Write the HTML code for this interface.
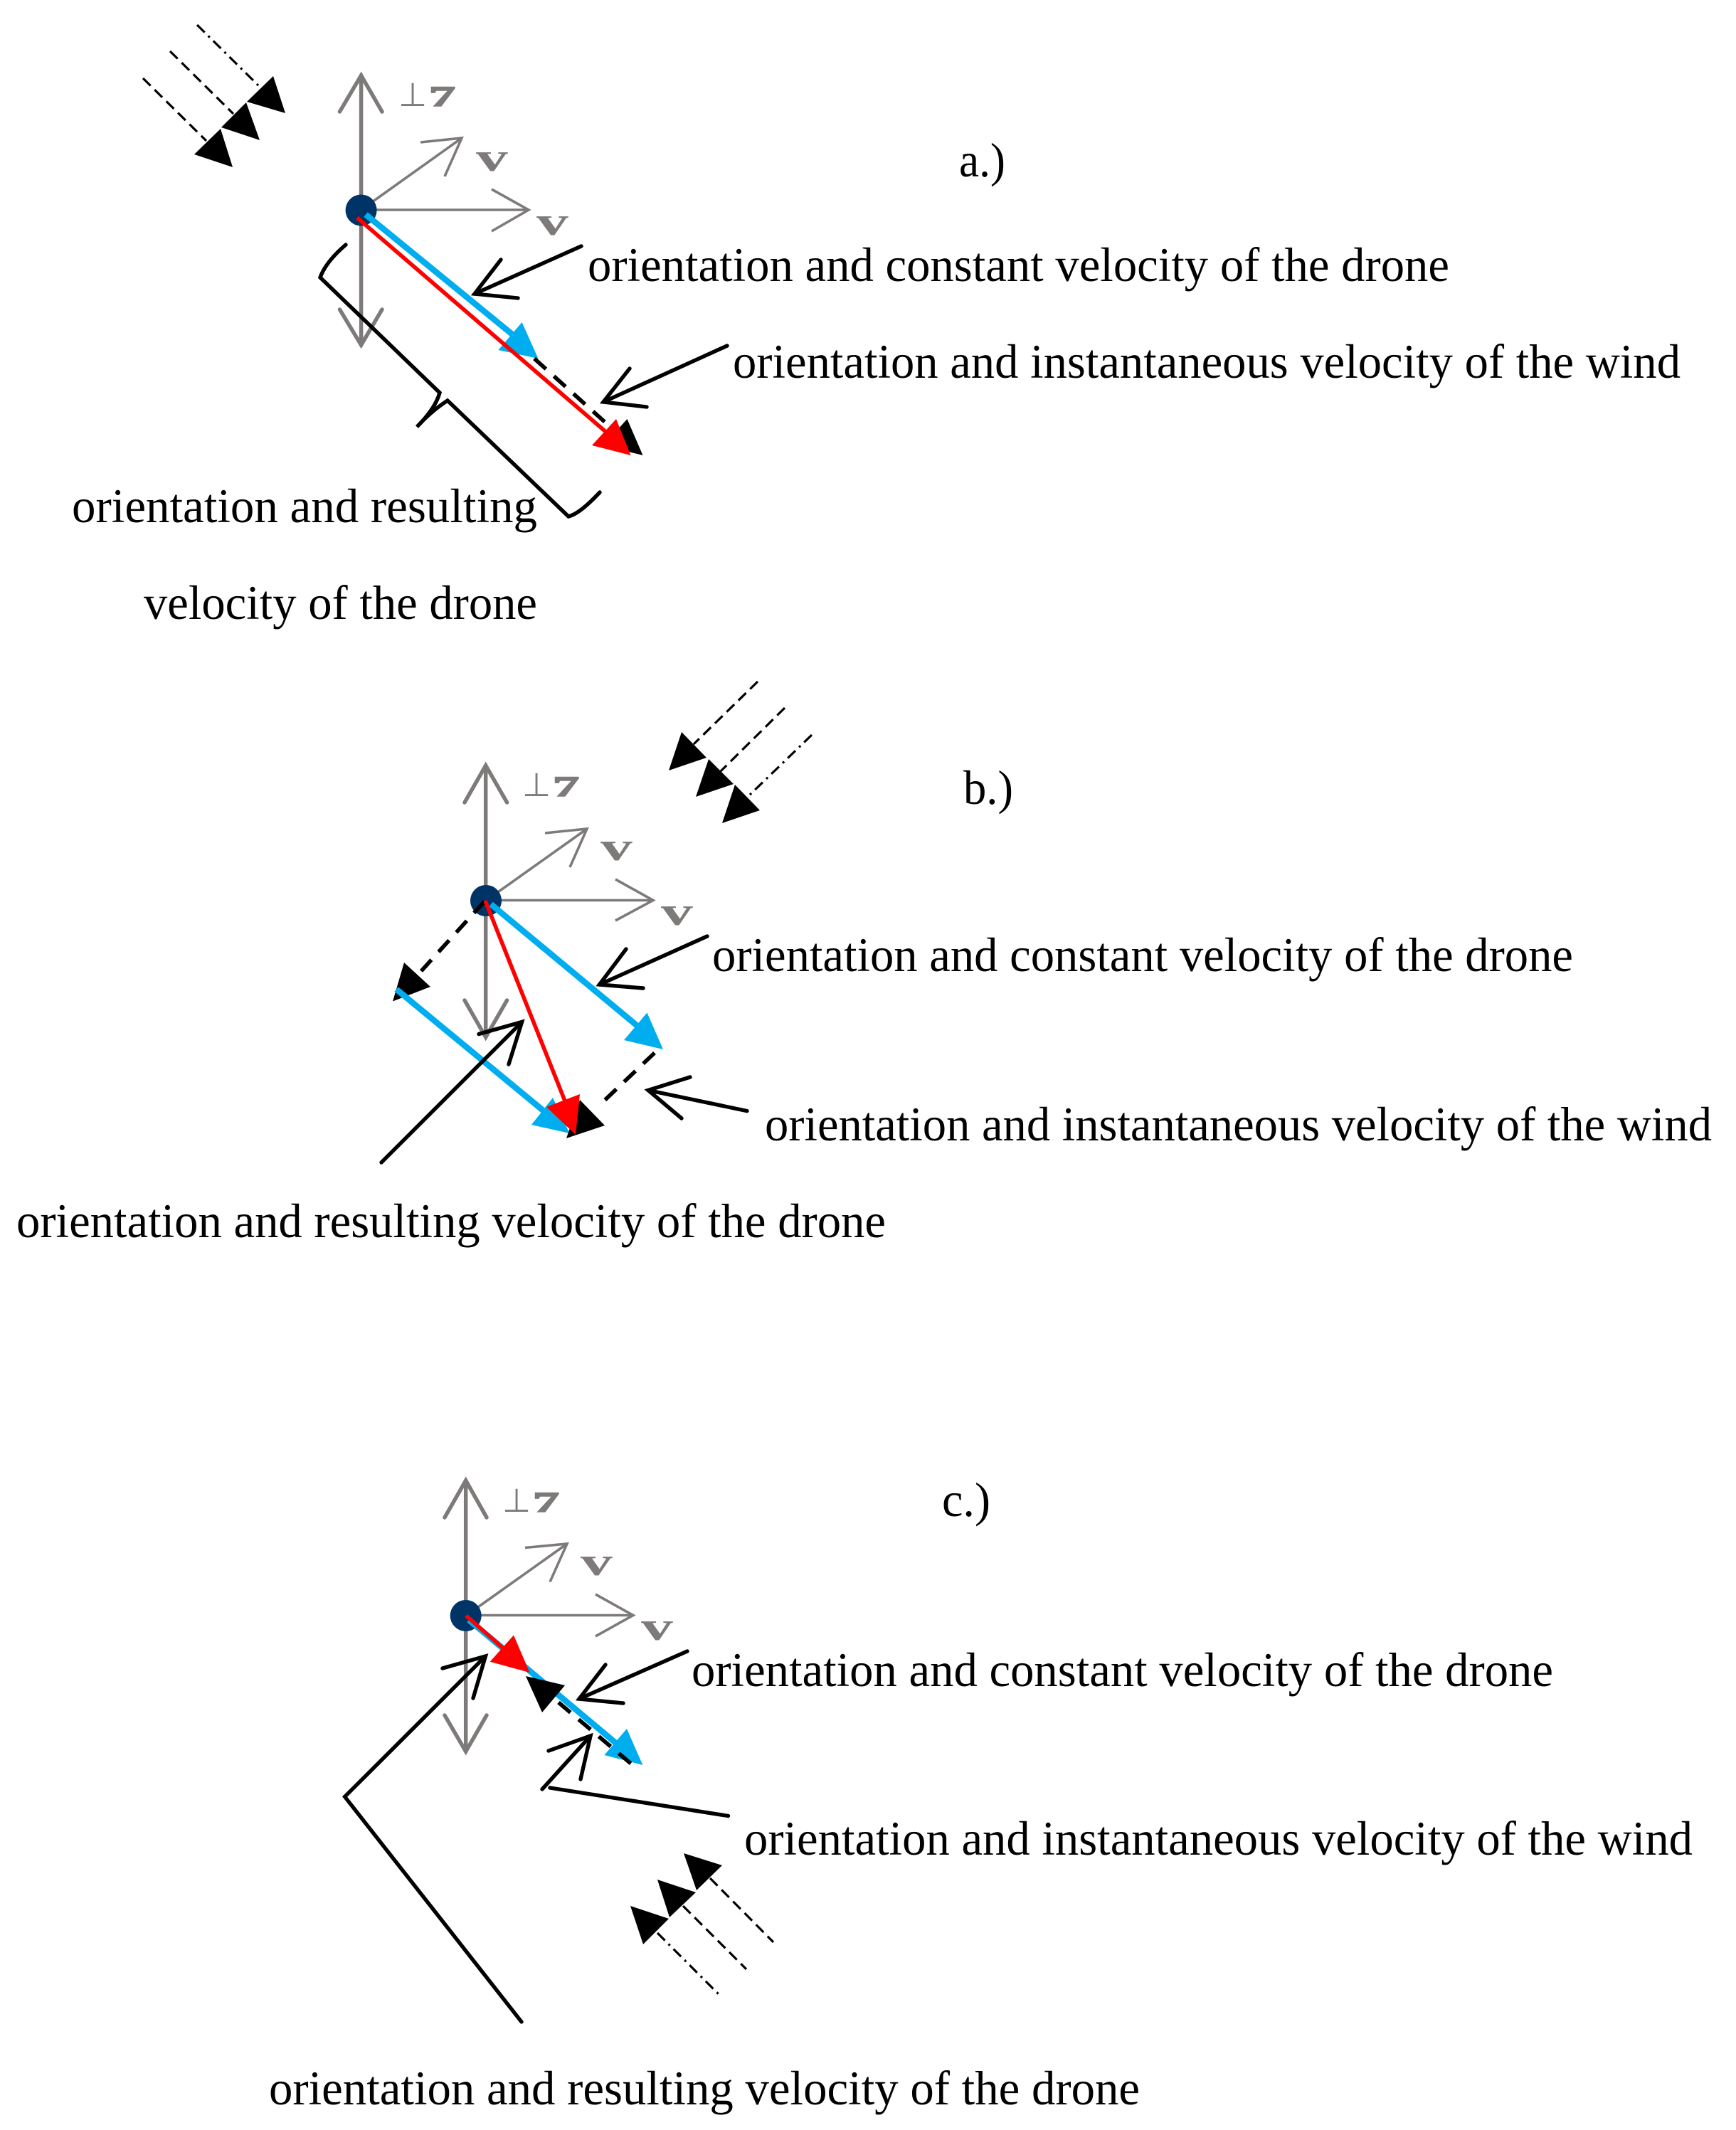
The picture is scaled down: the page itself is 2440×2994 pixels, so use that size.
<!DOCTYPE html>
<html><head><meta charset="utf-8"><style>
html,body{margin:0;padding:0;background:#fff}
svg{display:block}
text{font-family:"Liberation Serif",serif}
.t{font-size:68px;fill:#000}
.g{fill:#7f7a7a;font-weight:bold}
.gl{stroke:#7f7a7a;fill:none;stroke-width:5.5;stroke-linecap:round;stroke-linejoin:miter}
.gt{stroke:#7f7a7a;fill:none;stroke-width:3.6;stroke-linecap:butt}
.k{stroke:#000;fill:none;stroke-width:5.4;stroke-linecap:round;stroke-linejoin:miter}
.w{stroke:#000;fill:none;stroke-width:3.2;stroke-dasharray:15 8}
.wd{stroke:#000;fill:none;stroke-width:3.2;stroke-dasharray:15 7 3 7}
.d{stroke:#000;fill:none;stroke-width:5.6;stroke-dasharray:22 15}
.b{stroke:#00aeef;stroke-width:8.5;fill:none}
.r{stroke:#f00;stroke-width:5.6;fill:none}
.h{stroke:#7f7a7a;stroke-width:1.6}
</style></head><body>
<svg width="2440" height="2994" viewBox="0 0 2440 2994" xmlns="http://www.w3.org/2000/svg">
<rect width="2440" height="2994" fill="#fff"/>

<!-- PANEL A -->
<line class="w" x1="201" y1="110" x2="290" y2="198"/>
<line class="w" x1="239" y1="72" x2="328" y2="160"/>
<line class="wd" x1="277" y1="35" x2="365" y2="122"/>
<polygon points="384,107 347,143 401,159"/>
<polygon points="346,144 311,179 365,197"/>
<polygon points="310,181 273,217 327,235"/>
<line class="gl" x1="507.6" y1="106" x2="507.6" y2="485"/>
<polyline class="gl" points="477.5,157 507.6,106 537,157"/>
<polyline class="gl" points="477.5,435 507.6,485 537,435"/>
<line class="gt" x1="507.6" y1="295" x2="649" y2="194"/>
<polyline class="gt" points="591,200 649,194 625,248"/>
<line class="gt" x1="507.6" y1="295" x2="743" y2="295"/>
<polyline class="gt" points="691,266 743,295 691,325"/>
<circle cx="507.6" cy="295.5" r="22" fill="#003366"/>
<text class="g" font-size="46" transform="translate(560,149)" style="font-weight:normal">⊥</text>
<text class="g h" font-size="40" transform="translate(603,149) scale(1.85,1)">7</text>
<text class="g" font-size="56" transform="translate(669,240) scale(1.6,1)">v</text>
<text class="g" font-size="56" transform="translate(754,330) scale(1.6,1)">v</text>
<line class="b" x1="514" y1="301.5" x2="725" y2="474"/>
<polygon points="756.5,504 733.6,453 700.4,492" fill="#00aeef"/>
<line class="d" x1="751" y1="504" x2="851" y2="594"/>
<polygon points="903.5,640 881.5,589 848,626"/>
<line class="r" x1="502" y1="306" x2="855" y2="610"/>
<polygon points="886.6,640 866,589 832,626" fill="#f00"/>
<polyline class="k" points="728,419 667,413 704,365"/>
<line class="k" x1="817" y1="346" x2="667" y2="413"/>
<polyline class="k" points="909,572 848,565 885,518"/>
<line class="k" x1="1022" y1="486" x2="848" y2="565"/>
<path class="k" d="M486,344 Q458,368 450,390 L618,552 Q612,574 586,600 Q606,578 629,563 L799,726 Q815,722 843,692"/>
<text class="t" x="826" y="395" textLength="1211" lengthAdjust="spacingAndGlyphs">orientation and constant velocity of the drone</text>
<text class="t" x="1030" y="531" textLength="1332" lengthAdjust="spacingAndGlyphs">orientation and instantaneous velocity of the wind</text>
<text class="t" x="101" y="734" textLength="654" lengthAdjust="spacingAndGlyphs">orientation and resulting</text>
<text class="t" x="202" y="870" textLength="553" lengthAdjust="spacingAndGlyphs">velocity of the drone</text>
<text class="t" x="1348" y="248" textLength="65" lengthAdjust="spacingAndGlyphs">a.)</text>

<!-- PANEL B -->
<line class="w" x1="1065" y1="958" x2="975" y2="1046"/>
<line class="w" x1="1103" y1="995" x2="1013" y2="1084"/>
<line class="wd" x1="1141" y1="1033" x2="1052" y2="1119"/>
<polygon points="958,1029 993,1065 940,1083"/>
<polygon points="996,1067 1031,1102 978,1120"/>
<polygon points="1033,1103 1068,1139 1015,1157"/>
<line class="gl" x1="682.7" y1="1076" x2="682.7" y2="1458"/>
<polyline class="gl" points="653,1128 682.7,1076 712.6,1128"/>
<polyline class="gl" points="653,1406 682.7,1458 712.6,1406"/>
<line class="gt" x1="683" y1="1266" x2="825" y2="1165"/>
<polyline class="gt" points="766,1171 825,1165 801,1219"/>
<line class="gt" x1="683" y1="1265.5" x2="918" y2="1265.5"/>
<polyline class="gt" points="865,1236 918,1265.5 865,1294"/>
<circle cx="683" cy="1266" r="22" fill="#003366"/>
<text class="g" font-size="46" transform="translate(734,1119)" style="font-weight:normal">⊥</text>
<text class="g h" font-size="40" transform="translate(777,1119) scale(1.85,1)">7</text>
<text class="g" font-size="56" transform="translate(844,1209) scale(1.6,1)">v</text>
<text class="g" font-size="56" transform="translate(929,1300) scale(1.6,1)">v</text>
<line class="d" x1="681" y1="1267" x2="592" y2="1365"/>
<polygon points="552,1407.5 568,1353 605,1387"/>
<line class="b" x1="690" y1="1271" x2="903" y2="1448"/>
<polygon points="932,1475 909.5,1423.5 877,1462" fill="#00aeef"/>
<line class="b" x1="557" y1="1390.5" x2="772" y2="1568"/>
<polygon points="800.5,1593 777,1543 747,1581" fill="#00aeef"/>
<line class="d" x1="920" y1="1480" x2="842" y2="1554"/>
<polygon points="796,1600 850,1582 815,1546"/>
<line class="r" x1="682" y1="1266" x2="795" y2="1550"/>
<polygon points="809,1595 815,1538 768,1556" fill="#f00"/>
<polyline class="k" points="904,1389 842.5,1384 880,1334"/>
<line class="k" x1="994" y1="1316" x2="842.5" y2="1384"/>
<polyline class="k" points="970,1514 911,1532.5 958,1572"/>
<line class="k" x1="1050" y1="1561.6" x2="911" y2="1532.5"/>
<line class="k" x1="536" y1="1634" x2="733.6" y2="1436.5"/>
<polyline class="k" points="673,1453.5 733.6,1436.5 715,1496"/>
<text class="t" x="1001" y="1365" textLength="1210" lengthAdjust="spacingAndGlyphs">orientation and constant velocity of the drone</text>
<text class="t" x="1075" y="1603" textLength="1331" lengthAdjust="spacingAndGlyphs">orientation and instantaneous velocity of the wind</text>
<text class="t" x="23" y="1739" textLength="1222" lengthAdjust="spacingAndGlyphs">orientation and resulting velocity of the drone</text>
<text class="t" x="1354" y="1130" textLength="70" lengthAdjust="spacingAndGlyphs">b.)</text>

<!-- PANEL C -->
<line class="gl" x1="654.7" y1="2081" x2="654.7" y2="2462"/>
<polyline class="gl" points="625,2133 654.7,2081 684,2133"/>
<polyline class="gl" points="625,2411 654.7,2462 684,2411"/>
<line class="gt" x1="655" y1="2271" x2="797" y2="2170"/>
<polyline class="gt" points="738,2175.5 797,2170 773,2223.5"/>
<line class="gt" x1="655" y1="2270.5" x2="890" y2="2270.5"/>
<polyline class="gt" points="837,2241 890,2270.5 837,2300"/>
<circle cx="654.7" cy="2271" r="22" fill="#003366"/>
<text class="g" font-size="46" transform="translate(706,2125)" style="font-weight:normal">⊥</text>
<text class="g h" font-size="40" transform="translate(749,2125) scale(1.85,1)">7</text>
<text class="g" font-size="56" transform="translate(816,2214) scale(1.6,1)">v</text>
<text class="g" font-size="56" transform="translate(901,2305) scale(1.6,1)">v</text>
<line class="b" x1="659" y1="2277" x2="875" y2="2458"/>
<polygon points="903.4,2481 881,2430 849.4,2467" fill="#00aeef"/>
<line class="d" x1="785" y1="2393" x2="888" y2="2480"/>
<polygon points="739,2356 794,2369 762,2407"/>
<line class="r" x1="655" y1="2271" x2="720" y2="2328"/>
<polygon points="744.5,2351 722,2298.5 688.7,2335.7" fill="#f00"/>
<polyline class="k" points="876,2394 814,2388 851,2340"/>
<line class="k" x1="966" y1="2321" x2="814" y2="2388"/>
<line class="k" x1="1023.5" y1="2552.5" x2="773" y2="2513"/>
<line class="k" x1="762" y1="2515" x2="830" y2="2440"/>
<polyline class="k" points="771,2461 830,2440 816,2501"/>
<polyline class="k" points="733,2842 484.6,2525.5 682.4,2328"/>
<polyline class="k" points="622,2345 682.4,2328 665,2387"/>
<line class="w" x1="998" y1="2640" x2="1087" y2="2730"/>
<line class="w" x1="960" y1="2679" x2="1049" y2="2768"/>
<line class="wd" x1="924" y1="2717" x2="1012" y2="2805"/>
<polygon points="961,2605 1015,2622 979,2657"/>
<polygon points="924,2642 978,2660 941,2695"/>
<polygon points="886,2679 940,2697 904,2733"/>
<text class="t" x="972" y="2370" textLength="1211" lengthAdjust="spacingAndGlyphs">orientation and constant velocity of the drone</text>
<text class="t" x="1046" y="2607" textLength="1333" lengthAdjust="spacingAndGlyphs">orientation and instantaneous velocity of the wind</text>
<text class="t" x="378" y="2958" textLength="1224" lengthAdjust="spacingAndGlyphs">orientation and resulting velocity of the drone</text>
<text class="t" x="1324" y="2131" textLength="68" lengthAdjust="spacingAndGlyphs">c.)</text>
</svg>
</body></html>
